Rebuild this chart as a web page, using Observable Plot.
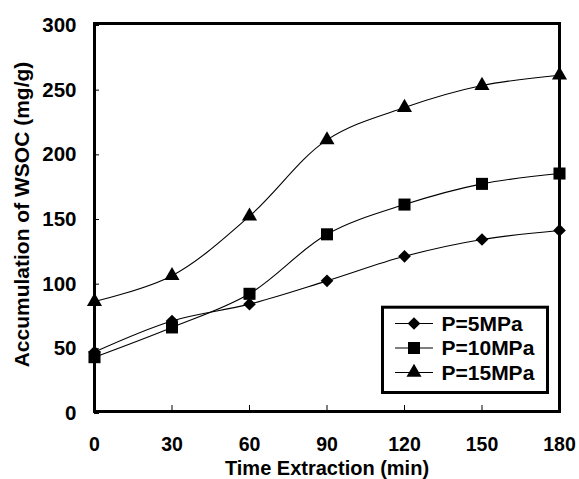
<!DOCTYPE html>
<html><head><meta charset="utf-8">
<script src="https://cdn.jsdelivr.net/npm/d3@7"></script>
<script src="https://cdn.jsdelivr.net/npm/@observablehq/plot@0.6"></script>
<style>body{margin:0;background:#fff} #chart{position:relative;width:579px;height:479px} #chart svg{display:block}</style>
</head><body><div id="chart"></div>
<script>
const times = [0, 30, 60, 90, 120, 150, 180];
const seriesNames = ["P=5MPa", "P=10MPa", "P=15MPa"];
const p5 = [46, 70, 83, 101, 120, 133, 140];
const p10 = [42, 65, 91, 137, 160, 176, 184];
const p15 = [85, 105, 151, 210, 235, 252, 260];
const xTicks = [0, 30, 60, 90, 120, 150, 180];
const yTicks = [0, 50, 100, 150, 200, 250, 300];
const xTitle = "Time Extraction (min)";
const yTitle = "Accumulation of WSOC (mg/g)";

const values = [p5, p10, p15];
const symbols = ["diamond2", "square", "triangle"];
const radii = [5.7, 6.8, 5.6];
const data = seriesNames.flatMap((s, i) => times.map((t, j) => ({series: s, time: t, value: values[i][j]})));

const font = {fontFamily: "'Liberation Sans', Arial, sans-serif", fontSize: "20.5px", fontWeight: "bold"};

const plot = Plot.plot({
  width: 579, height: 479,
  marginLeft: 94, marginRight: 20, marginTop: 23, marginBottom: 68,
  style: {...font, color: "#000", background: "#fff", overflow: "visible"},
  x: {domain: [0, 180]},
  y: {domain: [0, 300]},
  marks: [
    Plot.axisX({ticks: xTicks, tickSize: -6, tickPadding: 32, label: null, tickFormat: d => d, stroke: "#000", fill: "#000", fontSize: 19.5}),
    Plot.axisY({ticks: yTicks, tickSize: -5, tickPadding: 23, label: null, tickFormat: d => d, stroke: "#000", fill: "#000", dy: 2}),
    Plot.line(data, {x: "time", y: "value", z: "series", curve: "catmull-rom", stroke: "#000", strokeWidth: 1.1}),
    ...seriesNames.map((s, i) => Plot.dot(data.filter(d => d.series === s), {
      x: "time", y: "value", symbol: () => symbols[i], r: radii[i], fill: "#000", stroke: "none"
    })),
    Plot.frame({stroke: "#000", strokeWidth: 3}),
    Plot.text([xTitle], {text: d => d, frameAnchor: "bottom", lineAnchor: "middle", dy: 57.5, fill: "#000", fontSize: 20}),
    Plot.text([yTitle], {text: d => d, frameAnchor: "left", lineAnchor: "middle", textAnchor: "middle", rotate: -90, dx: -72, dy: -3, fill: "#000", fontSize: 21})
  ]
});
document.getElementById("chart").appendChild(plot);

// Legend overlay
const leg = d3.select("#chart").append("svg")
  .attr("width", 579).attr("height", 479)
  .style("position", "absolute").style("left", "0px").style("top", "0px")
  .style("pointer-events", "none")
  .style("font-family", font.fontFamily).style("font-size", "21px").style("font-weight", font.fontWeight);
leg.append("rect").attr("x", 382.5).attr("y", 307.2).attr("width", 165).attr("height", 85.3)
  .attr("fill", "#fff").attr("stroke", "#000").attr("stroke-width", 3);
const d3syms = [d3.symbolDiamond2, d3.symbolSquare, d3.symbolTriangle];
const rowY = [323.5, 348, 372.5];
seriesNames.forEach((s, i) => {
  const g = leg.append("g").attr("transform", `translate(0,${rowY[i]})`);
  g.append("line").attr("x1", 395).attr("x2", 433).attr("y1", 0).attr("y2", 0).attr("stroke", "#000").attr("stroke-width", 1.2);
  g.append("path").attr("transform", "translate(414,0)").attr("d", d3.symbol(d3syms[i], Math.PI * radii[i] * radii[i])()).attr("fill", "#000");
  g.append("text").attr("x", 441.5).attr("y", 0).attr("dy", "0.35em").attr("fill", "#000").text(s);
});
</script>
</body></html>
